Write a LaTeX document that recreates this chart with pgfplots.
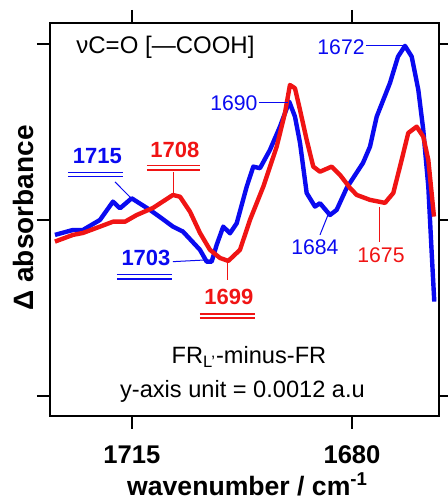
\documentclass[border=0pt]{standalone}
\usepackage{pgfplots}
\pgfplotsset{compat=1.18}
\usepackage{fontspec}
\setmainfont{Liberation Sans}
\definecolor{cblue}{RGB}{10,10,240}
\definecolor{cred}{RGB}{240,20,20}
\begin{document}
\begin{tikzpicture}
\useasboundingbox (0,0) rectangle (224pt,252pt);
\begin{axis}[
  at={(25pt,44pt)}, anchor=south west,
  scale only axis, width=194.5pt, height=196.5pt,
  x dir=reverse,
  xmin=1666.16, xmax=1728.04,
  ymin=-1.114, ymax=1.119,
  xtick={1715,1680}, ytick={-1,0,1}, yticklabels={},
  tick align=outside, major tick length=6.5pt,
  xtick pos=both, ytick pos=both,
  axis line style={line width=1pt},
  every tick/.style={line width=1pt, black},
  x tick label style={font=\fontsize{12.8}{15}\selectfont\bfseries, yshift=-5pt},
  /pgf/number format/assume math mode=true,
  /pgf/number format/set thousands separator={},
  xlabel={wavenumber / cm\textsuperscript{-1}},
  every axis x label/.style={at={(axis description cs:0.508,0)}, anchor=north, yshift=-28pt, inner sep=0pt, font=\fontsize{13.3}{15}\selectfont\bfseries},
  ylabel={Δ absorbance},
  every axis y label/.style={at={(axis description cs:-0.067,0.504)}, rotate=90, anchor=center, inner sep=0pt, font=\fontsize{14}{16}\selectfont\bfseries},
  clip=false,
]
\addplot[cblue, line width=2.2pt, line join=round] coordinates {
(1727.25,-0.085) (1724.39,-0.057) (1722.80,-0.057) (1720.09,0.000) (1718.02,0.104)
(1716.91,0.066) (1715.05,0.123) (1712.14,0.057) (1710.3,0.010) (1708.48,-0.038) (1706.89,-0.066)
(1704.18,-0.170) (1703.12,-0.237) (1702.32,-0.237) (1701.53,-0.142) (1700.48,-0.038)
(1699.41,-0.076) (1698.34,-0.019) (1696.75,0.189) (1695.70,0.303) (1694.64,0.294)
(1693.05,0.398) (1691.46,0.530) (1689.98,0.672) (1689.07,0.587) (1688.27,0.438)
(1687.21,0.153) (1685.89,0.076) (1685.09,0.095) (1683.50,0.028) (1682.44,0.057)
(1680.84,0.182) (1678.25,0.324) (1677.14,0.416) (1676.07,0.587) (1675.02,0.682)
(1673.96,0.778) (1672.68,0.928) (1671.57,0.989) (1670.50,0.928) (1669.45,0.739)
(1668.66,0.511) (1667.86,0.189) (1667.32,-0.188) (1666.91,-0.464)
};
\addplot[cred, line width=2.2pt, line join=round] coordinates {
(1727.25,-0.123) (1724.39,-0.085) (1722.80,-0.074) (1720.09,-0.038) (1718.02,-0.010)
(1716.11,-0.010) (1714.25,0.028) (1711.66,0.068) (1708.48,0.142) (1707.36,0.132)
(1705.77,0.047) (1704.18,-0.074) (1702.59,-0.170) (1701.00,-0.216) (1699.68,-0.233)
(1697.82,-0.170) (1696.23,0.000) (1694.11,0.189) (1691.98,0.416) (1690.66,0.608)
(1689.87,0.767) (1689.07,0.748) (1688.27,0.625) (1687.21,0.455) (1686.16,0.303)
(1685.09,0.274) (1683.23,0.303) (1681.91,0.256) (1680.32,0.182) (1679.25,0.142)
(1677.14,0.114) (1674.75,0.097) (1673.43,0.153) (1672.10,0.341) (1671.05,0.494)
(1669.71,0.530) (1668.66,0.473) (1667.86,0.341) (1666.96,0.019)
};
% annotations
\node[anchor=west, inner sep=0pt, font=\fontsize{12}{14}\selectfont] at (1723.9,0.983) {νC=O [—COOH]};
% 1672
\node[anchor=east, inner sep=0pt, cblue, font=\fontsize{10.6}{12}\selectfont] at (1677.93,0.983) {1672};
\draw[cblue, line width=0.5pt] (1677.8,0.99) -- (1671.6,0.99);
% 1690
\node[anchor=east, inner sep=0pt, cblue, font=\fontsize{10.6}{12}\selectfont] at (1694.96,0.665) {1690};
\draw[cblue, line width=0.5pt] (1694.8,0.67) -- (1690.2,0.67);
% 1684
\node[inner sep=0pt, cblue, font=\fontsize{10.6}{12}\selectfont] at (1685.89,-0.153) {1684};
\draw[cblue, line width=0.5pt] (1683.82,0.028) -- (1685.09,-0.085);
% 1675
\node[inner sep=0pt, cred, font=\fontsize{10.6}{12}\selectfont] at (1675.39,-0.199) {1675};
\draw[cred, line width=0.5pt] (1675.55,0.074) -- (1675.55,-0.125);
% 1715 bold blue
\node[inner sep=0pt, cblue, font=\fontsize{11}{13}\selectfont\bfseries] at (1720.49,0.364) {1715};
\draw[cblue, line width=0.8pt] (1725.18,0.269) -- (1716.43,0.269) (1725.18,0.246) -- (1716.43,0.246);
\draw[cblue, line width=0.5pt] (1717.70,0.216) -- (1715.0,0.119);
% 1708 bold red
\node[inner sep=0pt, cred, font=\fontsize{11}{13}\selectfont\bfseries] at (1708.16,0.400) {1708};
\draw[cred, line width=0.8pt] (1712.61,0.309) -- (1704.18,0.309) (1712.61,0.284) -- (1704.18,0.284);
\draw[cred, line width=0.5pt] (1708.32,0.273) -- (1708.32,0.153);
% 1703 bold blue
\node[inner sep=0pt, cblue, font=\fontsize{11}{13}\selectfont\bfseries] at (1712.77,-0.216) {1703};
\draw[cblue, line width=0.8pt] (1717.39,-0.309) -- (1708.64,-0.309) (1717.39,-0.335) -- (1708.64,-0.335);
\draw[cblue, line width=0.5pt] (1708.48,-0.237) -- (1703.07,-0.227);
% 1699 bold red
\node[inner sep=0pt, cred, font=\fontsize{11}{13}\selectfont\bfseries] at (1699.57,-0.436) {1699};
\draw[cred, line width=0.8pt] (1704.18,-0.534) -- (1695.43,-0.534) (1704.18,-0.557) -- (1695.43,-0.557);
\draw[cred, line width=0.5pt] (1699.73,-0.237) -- (1699.73,-0.341);
% bottom texts
\node[inner sep=0pt, font=\fontsize{11.8}{14}\selectfont] at (1696.39,-0.777) {FR\textsubscript{L'}-minus-FR};
\node[inner sep=0pt, font=\fontsize{11.8}{14}\selectfont] at (1697.42,-0.976) {y-axis unit = 0.0012 a.u};
\end{axis}
\end{tikzpicture}
\end{document}
